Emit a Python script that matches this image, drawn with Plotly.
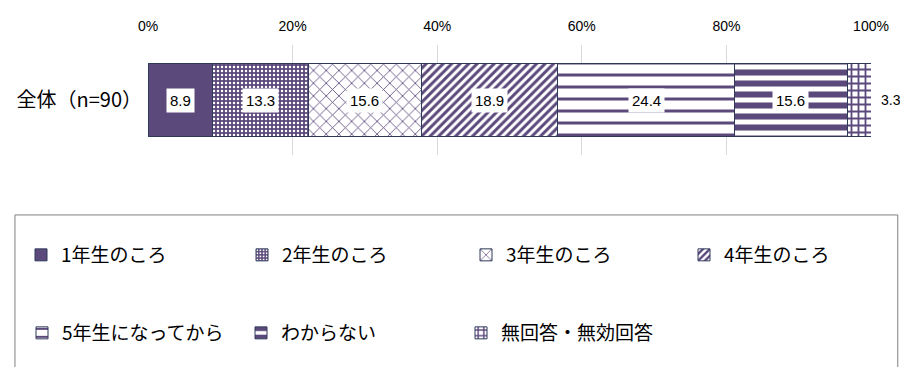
import plotly.graph_objects as go

# datos
categoria = ["全体（n=90）"]
series = ["1年生のころ", "2年生のころ", "3年生のころ", "4年生のころ",
          "5年生になってから", "わからない", "無回答・無効回答"]
valores = [8.9, 13.3, 15.6, 18.9, 24.4, 15.6, 3.3]
ticks_x = [0, 20, 40, 60, 80, 100]

morado = "#5C497C"
borde = "#2F3A5A"

# patrones aproximados a los del original
patrones = [
    dict(shape="", bgcolor=morado, fgcolor=morado),
    dict(shape=".", bgcolor=morado, fgcolor="white", size=4, solidity=0.3, fgopacity=1),
    dict(shape="x", bgcolor="white", fgcolor=morado, size=9, solidity=0.18, fgopacity=1),
    dict(shape="/", bgcolor="white", fgcolor=morado, size=6, solidity=0.5, fgopacity=1),
    dict(shape="-", bgcolor="white", fgcolor=morado, size=12, solidity=0.25, fgopacity=1),
    dict(shape="-", bgcolor="white", fgcolor=morado, size=11, solidity=0.55, fgopacity=1),
    dict(shape="+", bgcolor="white", fgcolor=morado, size=7, solidity=0.45, fgopacity=1),
]

# posición (px) de cada entrada de la leyenda: una leyenda por serie
pos_leyenda = [(13, 247), (234, 247), (458, 247), (676, 247),
               (14, 325), (233, 325), (453, 325)]

fig = go.Figure()
for i, (nombre, v) in enumerate(zip(series, valores)):
    fig.add_trace(go.Bar(
        y=categoria, x=[v], name=nombre, orientation="h",
        marker=dict(color=morado, line=dict(color=borde, width=1), pattern=patrones[i]),
        width=0.67,
        legend="legend" if i == 0 else f"legend{i + 1}",
        hoverinfo="x+name",
    ))

# etiquetas con fondo blanco
acum = 0
for i, v in enumerate(valores):
    if i < len(valores) - 1:
        fig.add_annotation(x=acum + v / 2, y=categoria[0], text=f"{v:.1f}",
                           showarrow=False, bgcolor="white", borderpad=3,
                           font=dict(size=15, color="black", family="Liberation Sans"))
    else:
        fig.add_annotation(x=acum + v, y=categoria[0], text=f"{v:.1f}",
                           showarrow=False, xanchor="left", xshift=8,
                           font=dict(size=14, color="black", family="Liberation Sans"))
    acum += v

# recuadro de la leyenda
fig.add_shape(type="rect", xref="paper", yref="paper",
              x0=-0.184, x1=1.037, y0=-2.6, y1=-0.545,
              line=dict(color="#7F7F7F", width=1), fillcolor="rgba(0,0,0,0)")

fig.update_xaxes(
    side="top", range=[0, 100], tickvals=ticks_x,
    ticktext=[f"{t}%" for t in ticks_x],
    showgrid=True, gridcolor="#D9D9D9", zeroline=False, showline=False,
    tickfont=dict(size=14, color="black", family="Liberation Sans"),
    ticklabelstandoff=10, automargin=False, fixedrange=True,
)
fig.update_yaxes(
    showgrid=False, zeroline=False, showline=False,
    tickfont=dict(size=20, color="black", family="Noto Sans CJK JP"),
    ticklabelstandoff=5, automargin=False, fixedrange=True,
)

# la página deja 8 px de margen en el body, por eso 900x359
W, H = 900, 359
leyendas = {}
for i, (px, py) in enumerate(pos_leyenda):
    clave = "legend" if i == 0 else f"legend{i + 1}"
    leyendas[clave] = dict(
        orientation="h", xref="container", yref="container",
        x=px / W, y=1 - py / H, xanchor="left", yanchor="middle",
        bgcolor="rgba(0,0,0,0)", itemclick=False,
        font=dict(size=19, color="black", family="Noto Sans CJK JP"),
    )

fig.update_layout(
    barmode="stack",
    width=W, height=H,
    margin=dict(l=140, r=37, t=37, b=212),
    plot_bgcolor="white", paper_bgcolor="white",
    showlegend=True,
    **leyendas,
)

fig.write_html("out.html")
